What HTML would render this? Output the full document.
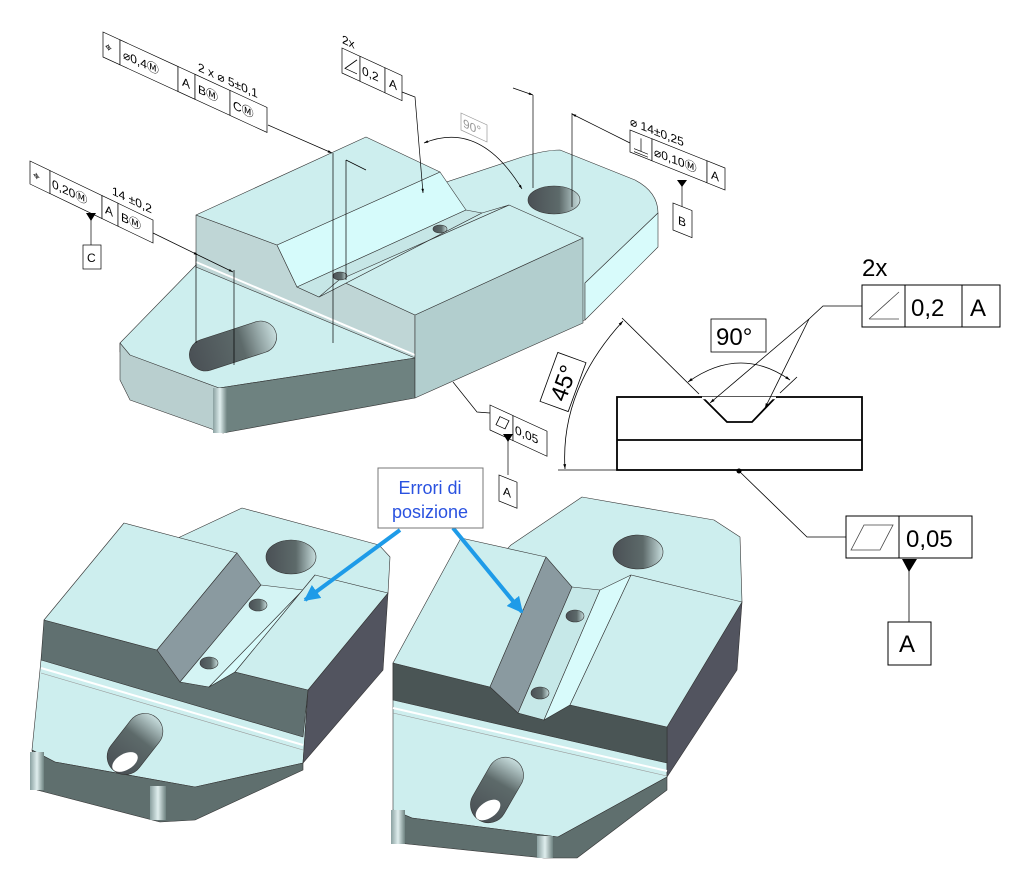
<!DOCTYPE html>
<html><head><meta charset="utf-8"><style>
html,body{margin:0;padding:0;background:#fff;}
svg{display:block;font-family:"Liberation Sans",sans-serif;}
</style></head><body>
<svg width="1024" height="886" viewBox="0 0 1024 886" xmlns="http://www.w3.org/2000/svg">
<defs>
<marker id="ar" viewBox="0 0 10 10" refX="10" refY="5" markerWidth="9" markerHeight="6" orient="auto-start-reverse"><path d="M0,2 L10,5 L0,8z" fill="#000"/></marker>
<marker id="ab" viewBox="0 0 10 10" refX="9" refY="5" markerWidth="4" markerHeight="4" orient="auto"><path d="M0,0 L10,5 L0,10z" fill="#1e9be8"/></marker>
<linearGradient id="hole" x1="0" x2="1"><stop offset="0" stop-color="#4a5055"/><stop offset="0.6" stop-color="#5d6a6a"/><stop offset="1" stop-color="#c8dede"/></linearGradient>
<linearGradient id="edge" x1="0" x2="1"><stop offset="0" stop-color="#8aa0a0"/><stop offset="0.5" stop-color="#dfeeee"/><stop offset="1" stop-color="#6e8280"/></linearGradient>
</defs>
<g stroke="#333" stroke-width="0.6" stroke-linejoin="round">
<!-- TOP PART -->
<path d="M120,343 L196,265 L522,157 Q545,150 560,150 L635,180 Q658,192 658,213 L585,283 L585,320 L415,358 L219,388 L120,352 Z" fill="#cdeeee"/>
<polygon points="585,283 658,213 658,247 585,320" fill="#d8fbfb"/>
<polygon points="120,343 130,355 219,388 223,433 130,400 120,380" fill="#b9cfcf"/>
<polygon points="219,388 415,358 415,398 223,433" fill="#6e8280"/>
<rect x="213" y="388" width="14" height="45" fill="url(#edge)" stroke="none"/>
<polygon points="196,215 277,245 297,287 319,297 339,280 415,315 415,358 196,267" fill="#bfd6d6"/>
<line x1="196" y1="262" x2="415" y2="355" stroke="#fff" stroke-width="2"/>
<polygon points="415,315 583,238 583,323 415,398" fill="#b2cece"/>
<polygon points="339,280 509,205 583,238 415,315" fill="#cdeeee"/>
<polygon points="277,245 440,172 466,210 297,287" fill="#d6fbfb"/>
<polygon points="297,287 466,210 482,213 319,297" fill="#c6e6e6"/>
<polygon points="319,297 482,213 509,205 339,280" fill="#cdeeee"/>
<polygon points="196,215 366,137 440,172 277,245" fill="#cdeeee"/>
<ellipse cx="340" cy="276" rx="7" ry="4" fill="url(#hole)"/>
<ellipse cx="440" cy="229" rx="7" ry="4" fill="url(#hole)"/>
<ellipse cx="554" cy="200" rx="26" ry="14" fill="url(#hole)"/>
<rect x="188" y="330" width="90" height="32" rx="16" transform="rotate(-18 233 346)" fill="url(#hole)"/>

<!-- BOTTOM LEFT PART -->
<polygon points="180,537 242,508 379,545 390,557 388,593 308,690 303,763 195,787 55,762 32,750 41,660" fill="#cdeeee"/>
<polygon points="388,593 383,670 303,763 308,690" fill="#52545f"/>
<polygon points="32,750 55,762 195,787 303,763 303,770 195,820 160,822 37,790" fill="#5f6f6e"/>
<rect x="30" y="752" width="14" height="38" fill="url(#edge)" stroke="none"/>
<rect x="150" y="786" width="16" height="34" fill="url(#edge)" stroke="none"/>
<polygon points="44,620 157,650 180,682 209,687 235,672 308,690 303,737 41,660" fill="#607070"/>
<line x1="41" y1="668" x2="303" y2="745" stroke="#fff" stroke-width="2"/>
<line x1="41" y1="673" x2="303" y2="750" stroke="#999"/>
<polygon points="44,620 124,523 237,553 157,650" fill="#cdeeee"/>
<polygon points="237,553 261,585 180,682 157,650" fill="#8a9aa0"/>
<polygon points="261,585 303,590 209,687 180,682" fill="#d4f4f4"/>
<polygon points="303,590 315,575 235,672 209,687" fill="#d8fbfb"/>
<polygon points="315,575 388,593 308,690 235,672" fill="#cdeeee"/>
<ellipse cx="258" cy="605" rx="9" ry="6" fill="url(#hole)"/>
<ellipse cx="209" cy="663" rx="9" ry="6" fill="url(#hole)"/>
<ellipse cx="291" cy="557" rx="25" ry="17" fill="url(#hole)"/>
<rect x="101" y="726" width="68" height="36" rx="18" transform="rotate(-52 135 744)" fill="url(#hole)"/>
<ellipse cx="125" cy="762" rx="14" ry="8" transform="rotate(-30 125 762)" fill="#fff" stroke="none"/>

<!-- BOTTOM RIGHT PART -->
<polygon points="511,545 582,497 714,520 740,537 742,602 667,727 667,777 558,837 412,818 393,810 393,663" fill="#cdeeee"/>
<polygon points="742,602 737,670 667,777 667,727" fill="#52545f"/>
<polygon points="393,810 412,818 558,837 667,777 667,790 577,858 544,858 398,843" fill="#5f6f6e"/>
<rect x="391" y="810" width="14" height="34" fill="url(#edge)" stroke="none"/>
<rect x="537" y="836" width="16" height="22" fill="url(#edge)" stroke="none"/>
<polygon points="393,663 490,687 518,713 544,720 570,705 667,727 667,763 393,700" fill="#4a5555"/>
<line x1="393" y1="708" x2="667" y2="771" stroke="#fff" stroke-width="2"/>
<line x1="393" y1="713" x2="667" y2="776" stroke="#999"/>
<polygon points="393,663 461,538 546,557 490,687" fill="#cdeeee"/>
<polygon points="546,557 572,587 518,713 490,687" fill="#8a9aa0"/>
<polygon points="572,587 600,590 544,720 518,713" fill="#c6e8e8"/>
<polygon points="600,590 631,575 570,705 544,720" fill="#d8fbfb"/>
<polygon points="631,575 742,602 667,727 570,705" fill="#cdeeee"/>
<ellipse cx="575" cy="616" rx="9" ry="6" fill="url(#hole)"/>
<ellipse cx="540" cy="693" rx="9" ry="6" fill="url(#hole)"/>
<ellipse cx="638" cy="552" rx="25" ry="17" fill="url(#hole)"/>
<rect x="462" y="772" width="70" height="36" rx="18" transform="rotate(-60 497 790)" fill="url(#hole)"/>
<ellipse cx="488" cy="810" rx="14" ry="8" transform="rotate(-35 488 810)" fill="#fff" stroke="none"/>
</g>

<!-- ANNOTATIONS top -->
<g stroke="#000" stroke-width="0.7" fill="none">
<line x1="268" y1="125" x2="332" y2="153" marker-end="url(#ar)"/>
<line x1="333" y1="153" x2="333" y2="343"/>
<line x1="346" y1="160" x2="346" y2="280"/>
<line x1="346" y1="160" x2="366" y2="170"/>
<line x1="153" y1="233" x2="198" y2="255" marker-end="url(#ar)"/>
<line x1="198" y1="255" x2="233" y2="272" marker-end="url(#ar)"/>
<line x1="196" y1="253" x2="196" y2="343"/>
<line x1="234" y1="270" x2="234" y2="365"/>
<polyline points="402,92 415,97 423,193" marker-end="url(#ar)"/>
<path d="M424,143 Q480,120 522,189" marker-start="url(#ar)" marker-end="url(#ar)"/>
<line x1="533" y1="95" x2="533" y2="188"/>
<line x1="513" y1="88" x2="533" y2="95" marker-end="url(#ar)"/>
<line x1="572" y1="113" x2="572" y2="207"/>
<line x1="630" y1="143" x2="572" y2="114" marker-end="url(#ar)"/>
<line x1="682" y1="185" x2="682" y2="210"/>
<line x1="91" y1="220" x2="91" y2="245"/>
<polyline points="453,382 477,412 490,413"/>
<line x1="508" y1="440" x2="508" y2="475"/>
</g>
<g font-size="12" fill="#000">
<g transform="matrix(1,0.46,0,1,103,32)" stroke="#000" stroke-width="0.7">
<rect x="0" y="0" width="17" height="25" fill="#fff"/><rect x="17" y="0" width="58" height="25" fill="#fff"/><rect x="75" y="0" width="17" height="25" fill="#fff"/><rect x="92" y="0" width="35" height="25" fill="#fff"/><rect x="127" y="0" width="37" height="25" fill="#fff"/>
<text x="2" y="17" stroke="none">⌖</text><text x="20" y="17" stroke="none">⌀0,4Ⓜ</text><text x="79" y="17" stroke="none">A</text><text x="95" y="17" stroke="none">BⓂ</text><text x="130" y="17" stroke="none">CⓂ</text>
<text x="95" y="-5" stroke="none">2 x ⌀ 5±0,1</text>
</g>
<g transform="matrix(1,0.46,0,1,342,48)" stroke="#000" stroke-width="0.7">
<text x="0" y="-5" stroke="none">2x</text>
<rect x="0" y="0" width="18" height="25" fill="#fff"/><rect x="18" y="0" width="25" height="25" fill="#fff"/><rect x="43" y="0" width="17" height="25" fill="#fff"/>
<path d="M15,5 L3,19 L15,19" fill="none"/><text x="20" y="17" stroke="none">0,2</text><text x="47" y="17" stroke="none">A</text>
</g>
<g transform="matrix(1,0.46,0,1,461,113)"><rect x="0" y="0" width="26" height="17" fill="#fff" stroke="#999" stroke-width="0.7"/><text x="2" y="13" fill="#999">90°</text></g>
<g transform="matrix(1,0.4,0,1,630,130)" stroke="#000" stroke-width="0.7">
<text x="0" y="-5" stroke="none">⌀ 14±0,25</text>
<rect x="0" y="0" width="22" height="22" fill="#fff"/><rect x="22" y="0" width="55" height="22" fill="#fff"/><rect x="77" y="0" width="18" height="22" fill="#fff"/>
<path d="M11,4 L11,17 M4,17 L18,17 M4,20 L18,20" fill="none"/><text x="24" y="16" stroke="none">⌀0,10Ⓜ</text><text x="81" y="16" stroke="none">A</text>
</g>
<polygon points="677,180 687,180 682,187" fill="#000"/>
<g transform="matrix(1,0.4,0,1,673,203)"><rect x="0" y="0" width="19" height="27" fill="#fff" stroke="#000" stroke-width="0.7"/><text x="5" y="19">B</text></g>
<g transform="matrix(1,0.48,0,1,30,161)" stroke="#000" stroke-width="0.7">
<rect x="0" y="0" width="20" height="23" fill="#fff"/><rect x="20" y="0" width="52" height="23" fill="#fff"/><rect x="72" y="0" width="16" height="23" fill="#fff"/><rect x="88" y="0" width="35" height="23" fill="#fff"/>
<text x="3" y="16" stroke="none">⌖</text><text x="22" y="16" stroke="none">0,20Ⓜ</text><text x="75" y="16" stroke="none">A</text><text x="91" y="16" stroke="none">BⓂ</text>
<text x="82" y="-6" stroke="none">14 ±0,2</text>
</g>
<polygon points="86,213 96,213 91,221" fill="#000"/>
<rect x="83" y="245" width="18" height="24" fill="#fff" stroke="#000" stroke-width="0.7"/><text x="87" y="262">C</text>
<g transform="matrix(1,0.46,0,1,490,405)" stroke="#000" stroke-width="0.7">
<rect x="0" y="0" width="23" height="25" fill="#fff"/><rect x="23" y="0" width="34" height="25" fill="#fff"/>
<path d="M6,17 L10,7 L19,7 L15,17z" fill="none"/><text x="25" y="17" stroke="none">0,05</text>
</g>
<polygon points="503,434 513,434 508,442" fill="#000"/>
<g transform="matrix(1,0.4,0,1,499,475)"><rect x="0" y="0" width="18" height="26" fill="#fff" stroke="#000" stroke-width="0.7"/><text x="4" y="18">A</text></g>
</g>

<!-- RIGHT DRAWING -->
<g stroke="#000" fill="none">
<rect x="617" y="397" width="245" height="73" stroke-width="1.8"/>
<line x1="617" y1="440" x2="862" y2="440" stroke-width="1.8"/>
<polyline points="702,397 727,422 752,422 776,397" stroke-width="1.8" fill="#fff"/>
<line x1="702" y1="398" x2="776" y2="398" stroke="#fff" stroke-width="2.5"/>
<line x1="558" y1="470" x2="617" y2="470" stroke-width="0.8"/>
<line x1="622" y1="318" x2="699" y2="394" stroke-width="0.8"/>
<line x1="797" y1="377" x2="780" y2="393" stroke-width="0.8"/>
<path d="M688,382 Q740,345 790,380" stroke-width="0.8" marker-start="url(#ar)" marker-end="url(#ar)"/>
<path d="M623,321 Q560,390 565,469" stroke-width="0.8" marker-start="url(#ar)" marker-end="url(#ar)"/>
<polyline points="862,306 823,306 809,319" stroke-width="0.8"/>
<line x1="809" y1="319" x2="710" y2="403" stroke-width="0.8" marker-end="url(#ar)"/>
<line x1="809" y1="319" x2="765" y2="408" stroke-width="0.8" marker-end="url(#ar)"/>
<polyline points="739,471 807,537 846,537" stroke-width="0.8"/>
<line x1="909" y1="570" x2="909" y2="622" stroke-width="0.8"/>
</g>
<circle cx="739" cy="471" r="2.5" fill="#000"/>
<g font-size="24" fill="#000">
<text x="862" y="276">2x</text>
<rect x="862" y="285" width="138" height="42" fill="#fff" stroke="#000"/>
<line x1="905" y1="285" x2="905" y2="327" stroke="#000"/><line x1="962" y1="285" x2="962" y2="327" stroke="#000"/>
<path d="M869,319 L899,292 M869,319 L899,319" stroke="#444" stroke-width="0.8"/>
<text x="911" y="316">0,2</text><text x="970" y="316">A</text>
<rect x="711" y="319" width="55" height="33" fill="#fff" stroke="#000" stroke-width="0.8"/><text x="716" y="345">90°</text>
<g transform="translate(563,382) rotate(-70)"><rect x="-26" y="-15" width="52" height="30" fill="#fff" stroke="#000" stroke-width="0.8"/><text x="-19" y="9">45°</text></g>
<rect x="846" y="516" width="126" height="42" fill="#fff" stroke="#000"/>
<line x1="899" y1="516" x2="899" y2="558" stroke="#000"/>
<path d="M851,550 L864,525 L893,525 L880,550z" fill="none" stroke="#444" stroke-width="0.8"/>
<text x="906" y="547">0,05</text>
<polygon points="902,559 917,559 909,572" fill="#000"/>
<rect x="888" y="622" width="43" height="43" fill="#fff" stroke="#000"/><text x="899" y="652">A</text>
</g>

<!-- Errori label -->
<line x1="400" y1="530" x2="305" y2="600" stroke="#1e9be8" stroke-width="4" marker-end="url(#ab)"/>
<line x1="453" y1="528" x2="522" y2="612" stroke="#1e9be8" stroke-width="4" marker-end="url(#ab)"/>
<rect x="378" y="468" width="105" height="60" fill="#fff" stroke="#777"/>
<text x="430" y="494" font-size="18" fill="#2a52e0" text-anchor="middle">Errori di</text>
<text x="430" y="518" font-size="18" fill="#2a52e0" text-anchor="middle">posizione</text>
</svg>
</body></html>
